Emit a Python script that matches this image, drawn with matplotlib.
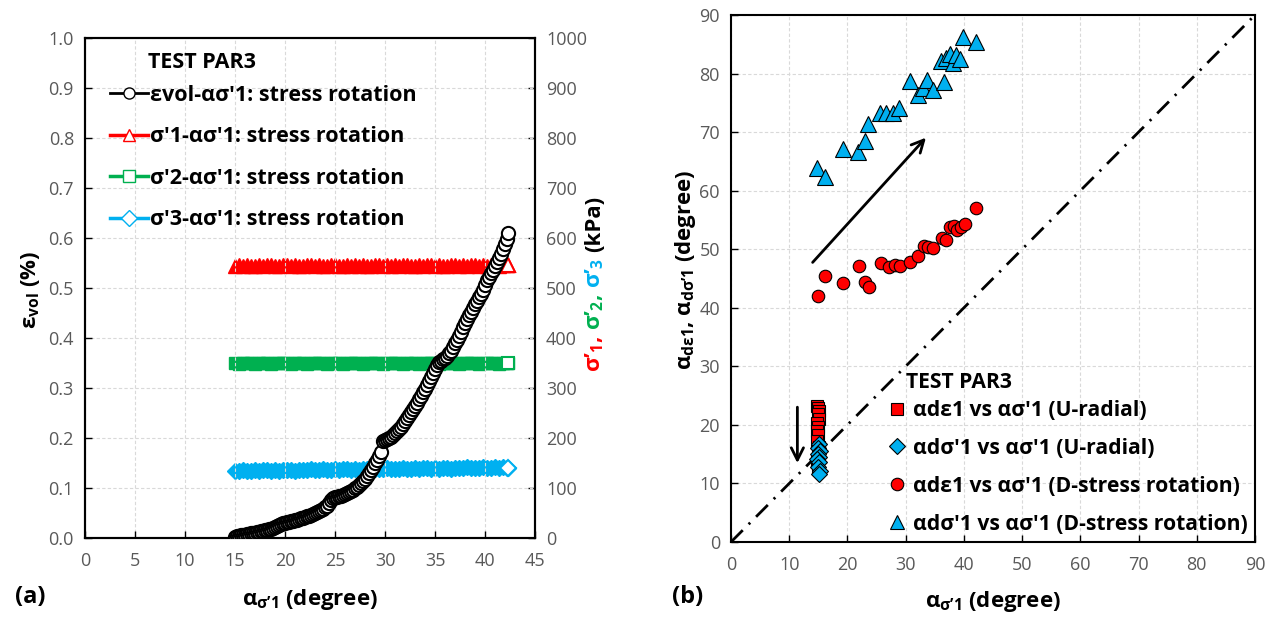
import matplotlib
matplotlib.use("Agg")
import matplotlib.pyplot as plt
from matplotlib.lines import Line2D
from matplotlib.transforms import IdentityTransform

plt.rcParams['font.family'] = ['Open Sans', 'DejaVu Sans']
plt.rcParams['mathtext.fontset'] = 'custom'
plt.rcParams['mathtext.bf'] = 'Open Sans:bold'
plt.rcParams['mathtext.rm'] = 'Open Sans'
plt.rcParams['mathtext.it'] = 'Open Sans:italic'

# ---------------- data: panel (a) ----------------
alpha_evol = [15.0, 15.2, 15.4, 15.6, 15.8, 16.0, 16.2, 16.4, 16.6, 16.8, 17.0, 17.2, 17.4, 17.6,
              17.8, 18.0, 18.2, 18.4, 18.6, 18.8, 19.0, 19.2, 19.4, 19.6, 19.8, 20.0, 20.2, 20.4,
              20.6, 20.8, 21.0, 21.2, 21.4, 21.6, 21.8, 22.0, 22.2, 22.4, 22.6, 22.8, 23.0, 23.2,
              23.4, 23.6, 23.8, 24.0, 24.2, 24.4, 24.6, 24.8, 25.0, 25.2, 25.4, 25.6, 25.8, 26.0,
              26.2, 26.4, 26.6, 26.8, 27.0, 27.2, 27.4, 27.6, 27.8, 28.0, 28.2, 28.4, 28.6, 28.8,
              29.0, 29.2, 29.4, 29.6, 29.8, 30.0, 30.2, 30.4, 30.6, 30.8, 31.0, 31.2, 31.4, 31.6,
              31.8, 32.0, 32.2, 32.4, 32.6, 32.8, 33.0, 33.2, 33.4, 33.6, 33.8, 34.0, 34.2, 34.4,
              34.6, 34.8, 35.0, 35.2, 35.4, 35.6, 35.8, 36.0, 36.2, 36.4, 36.6, 36.8, 37.0, 37.2,
              37.4, 37.6, 37.8, 38.0, 38.2, 38.4, 38.6, 38.8, 39.0, 39.2, 39.4, 39.6, 39.8, 40.0,
              40.2, 40.4, 40.6, 40.8, 41.0, 41.2, 41.4, 41.6, 41.8, 42.0, 42.2, 42.3]
eps_vol = [0.003, 0.004, 0.005, 0.006, 0.007, 0.007, 0.008, 0.009, 0.010, 0.010, 0.011, 0.012,
           0.013, 0.014, 0.015, 0.016, 0.017, 0.018, 0.019, 0.020, 0.022, 0.024, 0.026, 0.028,
           0.030, 0.031, 0.032, 0.033, 0.034, 0.035, 0.036, 0.037, 0.038, 0.040, 0.041, 0.042,
           0.044, 0.045, 0.047, 0.048, 0.050, 0.052, 0.054, 0.056, 0.059, 0.062, 0.065, 0.070,
           0.076, 0.080, 0.082, 0.083, 0.084, 0.085, 0.087, 0.088, 0.090, 0.092, 0.094, 0.097,
           0.100, 0.103, 0.107, 0.111, 0.115, 0.119, 0.124, 0.130, 0.136, 0.143, 0.150, 0.157,
           0.165, 0.172, 0.195, 0.196, 0.198, 0.200, 0.202, 0.206, 0.210, 0.214, 0.218, 0.223,
           0.228, 0.234, 0.240, 0.246, 0.252, 0.258, 0.265, 0.271, 0.278, 0.285, 0.292, 0.299,
           0.306, 0.314, 0.322, 0.330, 0.338, 0.346, 0.352, 0.355, 0.358, 0.361, 0.365, 0.370,
           0.375, 0.382, 0.390, 0.397, 0.405, 0.413, 0.422, 0.430, 0.438, 0.446, 0.453, 0.461,
           0.468, 0.475, 0.482, 0.489, 0.497, 0.506, 0.516, 0.523, 0.530, 0.537, 0.545, 0.552,
           0.560, 0.569, 0.578, 0.588, 0.598, 0.610]

alpha_stress = [15.0, 15.4, 15.8, 16.2, 16.6, 17.0, 17.4, 17.8, 18.2, 18.6, 19.0, 19.4, 19.8, 20.2,
                20.6, 21.0, 21.4, 21.8, 22.2, 22.6, 23.0, 23.4, 23.8, 24.2, 24.6, 25.0, 25.4, 25.8,
                26.2, 26.6, 27.0, 27.4, 27.8, 28.2, 28.6, 29.0, 29.4, 29.8, 30.2, 30.6, 31.0, 31.4,
                31.8, 32.2, 32.6, 33.0, 33.4, 33.8, 34.2, 34.6, 35.0, 35.4, 35.8, 36.2, 36.6, 37.0,
                37.4, 37.8, 38.2, 38.6, 39.0, 39.4, 39.8, 40.2, 40.6, 41.0, 41.4, 41.8, 42.2, 42.3]
sig1 = [544, 546, 545, 547, 545, 544, 546, 545, 547, 546, 545, 544, 546, 547, 545, 546, 544, 545,
        547, 546, 545, 546, 544, 545, 547, 546, 545, 544, 546, 545, 547, 545, 546, 544, 545, 546,
        547, 545, 546, 544, 546, 545, 547, 546, 545, 544, 546, 545, 547, 546, 545, 546, 544, 545,
        547, 546, 545, 546, 544, 546, 547, 545, 546, 545, 547, 546, 545, 546, 547, 547]
sig2 = [350, 349, 350, 351, 350, 349, 350, 350, 351, 349, 350, 350, 351, 350, 349, 350, 351, 350,
        349, 350, 350, 351, 350, 349, 350, 351, 350, 349, 350, 350, 351, 350, 349, 350, 351, 350,
        350, 349, 350, 351, 350, 350, 349, 350, 351, 350, 349, 350, 350, 351, 350, 349, 350, 350,
        351, 350, 349, 350, 350, 351, 350, 349, 350, 350, 351, 350, 349, 350, 350, 350]
sig3 = [134, 135, 136, 135, 134, 136, 135, 136, 137, 135, 136, 134, 136, 137, 136, 135, 137, 136,
        137, 138, 136, 137, 138, 137, 136, 138, 137, 138, 139, 137, 138, 137, 139, 138, 137, 139,
        138, 139, 140, 138, 139, 138, 140, 139, 138, 140, 139, 140, 141, 139, 140, 139, 141, 140,
        139, 141, 140, 141, 142, 140, 141, 140, 142, 141, 140, 142, 141, 142, 141, 141]

# ---------------- data: panel (b) ----------------
ur_sq_x = [14.8, 15.0, 15.2, 14.9, 15.1, 14.8, 15.0, 14.7, 15.0, 14.8, 15.1, 14.9, 14.7, 15.0]
ur_sq_y = [23.2, 22.8, 22.4, 21.8, 21.0, 20.4, 19.7, 19.0, 18.2, 17.2, 16.3, 15.2, 13.8, 12.6]
ur_di_x = [15.2, 15.0, 15.3, 14.9, 15.1, 14.8, 15.2, 15.0, 15.3, 15.1]
ur_di_y = [16.8, 16.1, 15.6, 15.0, 14.6, 14.1, 13.6, 12.8, 12.2, 11.6]
dr_ci_x = [15.0, 16.2, 19.3, 21.9, 23.0, 23.7, 25.8, 27.2, 28.1, 29.1, 30.8, 32.2, 33.1, 33.8,
           34.7, 36.3, 36.9, 37.6, 38.3, 38.9, 39.5, 40.2, 42.0]
dr_ci_y = [42.0, 45.5, 44.3, 47.2, 44.4, 43.5, 47.6, 46.9, 47.3, 47.2, 47.8, 48.8, 50.5, 50.3,
           50.2, 52.0, 51.6, 53.8, 53.9, 53.2, 53.8, 54.3, 57.1]
dr_tr_x = [14.8, 16.2, 19.2, 21.8, 23.0, 23.6, 25.6, 26.7, 27.8, 28.9, 30.7, 32.1, 33.0, 33.7,
           34.7, 36.5, 36.1, 36.9, 37.6, 38.1, 38.7, 39.4, 39.9, 42.0]
dr_tr_y = [63.9, 62.3, 67.2, 66.6, 68.5, 71.3, 73.2, 73.2, 73.3, 74.2, 78.7, 76.4, 77.5, 78.9,
           77.2, 78.5, 82.2, 82.6, 83.3, 81.8, 83.2, 82.5, 86.2, 85.4]
diag = [0, 90]

RED = '#FF0000'
GREEN = '#00B050'
BLUE = '#00B0F0'
TICKC = '#595959'
GRIDC = '#d9d9d9'
FS_LEG = 15.5
FS_LAB = 16
FS_TICK = 13

W, H = 1271, 618
fig = plt.figure(figsize=(W / 100, H / 100), dpi=100)

def style_axes(ax):
    for s in ax.spines.values():
        s.set_linewidth(1.5)
        s.set_color('black')
    ax.tick_params(direction='in', length=5, width=1, labelsize=FS_TICK, labelcolor=TICKC, pad=8)
    ax.grid(True, color=GRIDC, linestyle=(0, (3, 2)), linewidth=0.8)
    ax.set_axisbelow(True)

# ---------------- panel (a) ----------------
axL = fig.add_axes([85 / W, 1 - 538 / H, 450 / W, 500 / H])
style_axes(axL)
axL.set_xlim(0, 45)
axL.set_ylim(0, 1.0)
axL.set_xticks(range(0, 46, 5))
axL.set_yticks([i / 10 for i in range(11)])
axL.yaxis.set_major_formatter(matplotlib.ticker.FormatStrFormatter('%.1f'))
axL.tick_params(axis='x', pad=10)

axR = axL.twinx()
axR.set_ylim(0, 1000)
axR.set_yticks(range(0, 1001, 100))
axR.tick_params(direction='in', length=5, width=1, labelsize=FS_TICK, labelcolor=TICKC, pad=8)
for s in axR.spines.values():
    s.set_linewidth(1.5)

# stress bands (dense overlapping markers), last point open
axR.plot(alpha_stress, sig1, ls='none', marker='^', ms=10, mfc=RED, mec=RED, zorder=3)
axR.plot(alpha_stress[-1:], sig1[-1:], ls='none', marker='^', ms=10, mfc='white', mec=RED, mew=1.5, zorder=3)
axR.plot(alpha_stress, sig2, ls='none', marker='s', ms=8.5, mfc=GREEN, mec=GREEN, zorder=3)
axR.plot(alpha_stress[-1:], sig2[-1:], ls='none', marker='s', ms=8.5, mfc='white', mec=GREEN, mew=1.5, zorder=3)
axR.plot(alpha_stress, sig3, ls='none', marker='D', ms=8.5, mfc=BLUE, mec=BLUE, zorder=3)
axR.plot(alpha_stress[-1:], sig3[-1:], ls='none', marker='D', ms=8.5, mfc='white', mec=BLUE, mew=1.5, zorder=3)
# volumetric strain curve on top
axR.set_zorder(1)
axL.set_zorder(2)
axL.patch.set_visible(False)
axL.plot(alpha_evol, eps_vol, color='black', lw=1.5, marker='o', ms=9.5, mfc='white', mec='black',
         mew=1.5, zorder=4)

handles_a = [
    Line2D([], [], color='black', lw=2, marker='o', ms=8, mfc='white', mec='black', mew=1),
    Line2D([], [], color=RED, lw=2.5, marker='^', ms=9, mfc='white', mec=RED, mew=1),
    Line2D([], [], color=GREEN, lw=2.5, marker='s', ms=8, mfc='white', mec=GREEN, mew=1),
    Line2D([], [], color=BLUE, lw=2.5, marker='D', ms=8, mfc='white', mec=BLUE, mew=1),
]
labels_a = ["εvol-ασ'1: stress rotation", "σ'1-ασ'1: stress rotation",
            "σ'2-ασ'1: stress rotation", "σ'3-ασ'1: stress rotation"]
legA = axL.legend(handles_a, labels_a, loc='upper left', bbox_to_anchor=(110 / W, 1 - 85 / H),
                  bbox_transform=fig.transFigure, frameon=False, borderpad=0, borderaxespad=0,
                  handlelength=1.75, handletextpad=0.1, labelspacing=0.95,
                  prop={'weight': 'bold', 'size': FS_LEG})
fig.text(148 / W, 1 - 63 / H, 'TEST PAR3', fontsize=FS_LEG, fontweight='bold', ha='left', va='center')

# ---------------- panel (b) ----------------
axB = fig.add_axes([731 / W, 1 - 542 / H, 524 / W, 527 / H])
style_axes(axB)
axB.set_xlim(0, 90)
axB.set_ylim(0, 90)
axB.set_xticks(range(0, 91, 10))
axB.set_yticks(range(0, 91, 10))
axB.tick_params(axis='x', pad=10)

axB.plot(diag, diag, color='black', lw=2, ls=(0, (6, 3, 0.8, 3)), zorder=2)
axB.plot(ur_sq_x, ur_sq_y, ls='none', marker='s', ms=8, mfc=RED, mec='black', mew=0.8, zorder=3)
axB.plot(ur_di_x, ur_di_y, ls='none', marker='D', ms=8, mfc=BLUE, mec='black', mew=0.8, zorder=4)
axB.plot(dr_ci_x, dr_ci_y, ls='none', marker='o', ms=9, mfc=RED, mec='black', mew=0.8, zorder=3)
axB.plot(dr_tr_x, dr_tr_y, ls='none', marker='^', ms=11, mfc=BLUE, mec='black', mew=0.8, zorder=3)

axB.annotate('', xy=(33.8, 69.4), xytext=(13.7, 47.4),
             arrowprops=dict(arrowstyle='->', lw=2, color='black', mutation_scale=22))
axB.annotate('', xy=(11.4, 13.0), xytext=(11.4, 23.5),
             arrowprops=dict(arrowstyle='->', lw=2, color='black', mutation_scale=22))

handles_b = [
    Line2D([], [], ls='none', marker='s', ms=9, mfc=RED, mec='black', mew=0.8),
    Line2D([], [], ls='none', marker='D', ms=8, mfc=BLUE, mec='black', mew=0.8),
    Line2D([], [], ls='none', marker='o', ms=9, mfc=RED, mec='black', mew=0.8),
    Line2D([], [], ls='none', marker='^', ms=10, mfc=BLUE, mec='black', mew=0.8),
]
labels_b = ["αdε1 vs ασ'1 (U-radial)", "αdσ'1 vs ασ'1 (U-radial)",
            "αdε1 vs ασ'1 (D-stress rotation)", "αdσ'1 vs ασ'1 (D-stress rotation)"]
legB = axB.legend(handles_b, labels_b, loc='upper left', bbox_to_anchor=(889 / W, 1 - 400 / H),
                  bbox_transform=fig.transFigure, frameon=False, borderpad=0, borderaxespad=0,
                  handlelength=0.8, handletextpad=0.35, labelspacing=0.8,
                  prop={'weight': 'bold', 'size': FS_LEG - 0.3})
fig.text(906 / W, 1 - 383 / H, 'TEST PAR3', fontsize=FS_LEG - 0.3, fontweight='bold', ha='left', va='center')

# ---------------- axis labels ----------------
xlab = r"$\mathbf{α}_{\mathbf{σ’1}}$ (degree)"
fig.text(310 / W, 1 - 600 / H, xlab, fontsize=FS_LAB, fontweight='bold', ha='center', va='center')
fig.text(993 / W, 1 - 601 / H, xlab, fontsize=FS_LAB, fontweight='bold', ha='center', va='center')
fig.text(30 / W, 1 - 290 / H, r"$\mathbf{ε}_{\mathbf{vol}}$ (%)", fontsize=FS_LAB, fontweight='bold',
         rotation=90, ha='center', va='center')
fig.text(686 / W, 1 - 270 / H, r"$\mathbf{α}_{\mathbf{dε1}}$, $\mathbf{α}_{\mathbf{dσ’1}}$ (degree)",
         fontsize=FS_LAB, fontweight='bold', rotation=90, ha='center', va='center')
fig.text(30 / W, 1 - 597 / H, '(a)', fontsize=17, fontweight='bold', ha='center', va='center')
fig.text(688 / W, 1 - 597 / H, '(b)', fontsize=17, fontweight='bold', ha='center', va='center')

# multicoloured secondary y label, built bottom-to-top
pieces = [(r"$\mathbf{σ’}_{\mathbf{1}}\mathbf{,}$", RED),
          (r"$\mathbf{σ’}_{\mathbf{2}}\mathbf{,}$", GREEN),
          (r"$\mathbf{σ’}_{\mathbf{3}}$", BLUE),
          ("(kPa)", 'black')]
renderer = fig.canvas.get_renderer()
ypos = H - 372
for txt, col in pieces:
    t = fig.text(600, ypos, txt, transform=IdentityTransform(), fontsize=FS_LAB, fontweight='bold',
                 color=col, rotation=90, rotation_mode='anchor', ha='left', va='baseline')
    bb = t.get_window_extent(renderer)
    ypos = bb.y1 + 6

fig.savefig('out.png', dpi=100)
